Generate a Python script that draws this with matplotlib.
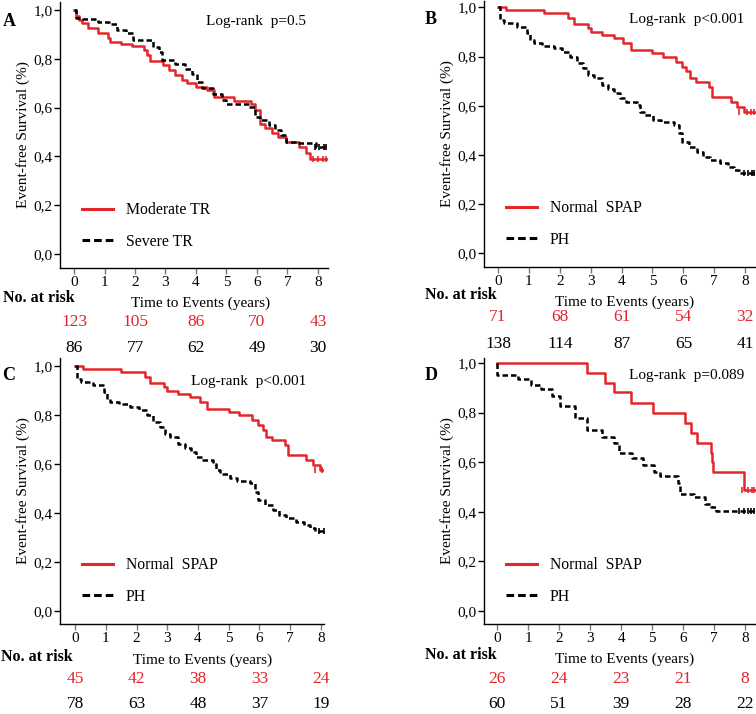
import numpy as np
import matplotlib
matplotlib.use("Agg")
import matplotlib.pyplot as plt
from matplotlib.transforms import blended_transform_factory

plt.rcParams['font.family'] = ['Liberation Serif', 'DejaVu Serif']

RED = '#e3262b'
W, H = 756, 714

# ---- survival curves: (start time, survival) steps, last entry = end of follow-up
a_mod_t = [0, 0.05, 0.15, 0.25, 0.47, 0.8, 1.1, 1.18, 1.55, 1.89, 2.3, 2.4, 2.5, 2.93, 3.1, 3.3,
           3.55, 3.7, 4.0, 4.35, 4.6, 5.25, 5.8, 5.95, 6.1, 6.25, 6.5, 6.7, 6.95, 7.38, 7.6, 7.75, 8.3]
a_mod_s = [1.0, 0.975, 0.96, 0.945, 0.928, 0.904, 0.884, 0.87, 0.86, 0.854, 0.835, 0.815, 0.79, 0.775,
           0.754, 0.734, 0.713, 0.70, 0.686, 0.672, 0.645, 0.627, 0.617, 0.59, 0.535, 0.515, 0.495,
           0.48, 0.46, 0.44, 0.413, 0.388, 0.388]
a_sev_t = [0, 0.08, 0.3, 0.8, 1.15, 1.42, 1.7, 1.95, 2.6, 2.8, 2.9, 3.3, 3.65, 3.88, 4.02, 4.2, 4.55,
           4.85, 4.97, 5.75, 5.95, 6.1, 6.38, 6.6, 6.8, 6.95, 7.25, 7.95, 8.3]
a_sev_s = [1.0, 0.966, 0.962, 0.952, 0.943, 0.918, 0.904, 0.877, 0.85, 0.83, 0.795, 0.78, 0.76, 0.74,
           0.706, 0.679, 0.658, 0.63, 0.617, 0.604, 0.563, 0.549, 0.529, 0.508, 0.488, 0.46, 0.454,
           0.44, 0.44]

b_norm_t = [0, 0.25, 1.48, 2.27, 2.45, 2.9, 3.0, 3.35, 3.75, 4.05, 4.3, 5.0, 5.33, 5.75, 5.95, 6.1,
            6.2, 6.4, 6.82, 6.93, 7.53, 7.75, 7.97, 8.32]
b_norm_s = [1.0, 0.989, 0.976, 0.955, 0.932, 0.915, 0.90, 0.888, 0.874, 0.854, 0.827, 0.813, 0.80,
            0.779, 0.759, 0.74, 0.711, 0.698, 0.677, 0.637, 0.617, 0.596, 0.576, 0.576]
b_ph_t = [0, 0.05, 0.2, 0.6, 0.95, 1.05, 1.15, 1.43, 1.8, 2.08, 2.33, 2.55, 2.76, 2.92, 3.1, 3.35,
          3.57, 3.76, 3.95, 4.13, 4.5, 4.6, 4.72, 5.03, 5.27, 5.68, 5.86, 5.95, 6.17, 6.43, 6.65,
          6.86, 7.2, 7.45, 7.65, 7.81, 8.32]
b_ph_s = [1.0, 0.949, 0.935, 0.921, 0.894, 0.867, 0.854, 0.844, 0.833, 0.82, 0.80, 0.772, 0.752,
          0.725, 0.711, 0.684, 0.667, 0.65, 0.63, 0.617, 0.603, 0.576, 0.562, 0.542, 0.533, 0.522,
          0.488, 0.454, 0.434, 0.413, 0.393, 0.379, 0.366, 0.352, 0.339, 0.328, 0.328]

# panel C shows the same curves as panel B
c_norm_t, c_norm_s = b_norm_t, b_norm_s
c_ph_t, c_ph_s = b_ph_t, b_ph_s

d_norm_t = [0, 2.91, 3.47, 3.77, 4.33, 5.03, 6.06, 6.25, 6.44, 6.9, 6.92, 6.97, 7.96, 8.32]
d_norm_s = [1.0, 0.96, 0.919, 0.881, 0.84, 0.80, 0.759, 0.719, 0.678, 0.635, 0.60, 0.56, 0.489, 0.489]
d_ph_t = [0, 0.01, 0.67, 1.1, 1.42, 1.78, 2.03, 2.53, 2.9, 3.39, 3.77, 3.93, 4.35, 4.7, 5.06, 5.27,
          5.82, 5.9, 6.35, 6.7, 6.9, 7.05, 8.32]
d_ph_s = [1.0, 0.953, 0.935, 0.912, 0.895, 0.868, 0.827, 0.777, 0.73, 0.703, 0.676, 0.635, 0.615,
          0.588, 0.56, 0.543, 0.514, 0.473, 0.459, 0.432, 0.419, 0.403, 0.403]

# censor marks near the end
a_mod_cens = [7.85, 8.0, 8.15, 8.28]
a_sev_cens = [7.9, 8.05, 8.2, 8.28]
b_norm_cens = [7.8, 8.05, 8.18, 8.3]
b_ph_cens = [7.95, 8.1, 8.22, 8.3]
d_norm_cens = [7.9, 8.1, 8.22, 8.3]
d_ph_cens = [7.8, 7.95, 8.1, 8.2, 8.3]

risk_times = [0, 2, 4, 6, 8]
a_risk_mod = [123, 105, 86, 70, 43]
a_risk_sev = [86, 77, 62, 49, 30]
b_risk_norm = [71, 68, 61, 54, 32]
b_risk_ph = [138, 114, 87, 65, 41]
c_risk_norm = [45, 42, 38, 33, 24]
c_risk_ph = [78, 63, 48, 37, 19]
d_risk_norm = [26, 24, 23, 21, 8]
d_risk_ph = [60, 51, 39, 28, 22]

yticks = [0.0, 0.2, 0.4, 0.6, 0.8, 1.0]
ytick_labels = ['0,0', '0,2', '0,4', '0,6', '0,8', '1,0']


def fy(py):
    return 1 - py / H


fig = plt.figure(figsize=(W / 100, H / 100), dpi=100)


def panel(box, xlim, ylim, letter, pval, curves, labels, risk_red, risk_blk, pos):
    l, t, r, b = box
    ax = fig.add_axes([l / W, 1 - b / H, (r - l) / W, (b - t) / H])
    for (tt, ss, cens), col, ls in zip(curves, [RED, 'black'], ['-', (0, (2.2, 1.2))]):
        ax.step(tt, ss, where='post', color=col, lw=1.8, linestyle=ls, clip_on=True)
        cy = [ss[-1]] * len(cens)
        ax.plot(cens, cy, linestyle='none', marker='|', color=col, ms=5, mew=1.2)
    ax.set_xlim(*xlim)
    ax.set_ylim(*ylim)
    for s in ['top', 'right']:
        ax.spines[s].set_visible(False)
    ax.spines['left'].set_linewidth(1.0)
    ax.spines['bottom'].set_linewidth(1.0)
    ax.set_xticks(range(9))
    ax.set_yticks(yticks)
    ax.set_yticklabels(ytick_labels)
    ax.tick_params(axis='both', labelsize=11, length=4, width=1, pad=1.5)
    ax.tick_params(axis='x', colors='#777777', labelcolor='black')
    ax.set_ylabel('Event-free Survival (%)', fontsize=11, labelpad=2)

    # dashes in legend a bit longer than on the curves
    h1, = ax.plot([], [], color=RED, lw=2.2)
    h2, = ax.plot([], [], color='black', lw=2.2, linestyle=(0, (2.5, 1.3)))
    ax.legend([h1, h2], labels, loc='upper left', frameon=False, fontsize=11.3,
              bbox_to_anchor=(pos['leg'][0] / W, fy(pos['leg'][1])),
              bbox_transform=fig.transFigure, handlelength=2.0, handletextpad=0.8,
              labelspacing=1.0, borderaxespad=0, borderpad=0)

    fig.text(pos['letter'][0] / W, fy(pos['letter'][1]), letter, fontsize=13,
             fontweight='bold', ha='center', va='center')
    fig.text(pos['p'][0] / W, fy(pos['p'][1]), pval, fontsize=11, ha='left', va='center')
    fig.text(pos['risk'][0] / W, fy(pos['risk'][1]), 'No. at risk', fontsize=11.5,
             fontweight='bold', ha='left', va='center')
    fig.text(pos['xl'][0] / W, fy(pos['xl'][1]), 'Time to Events (years)', fontsize=11,
             ha='center', va='center')
    tr = blended_transform_factory(ax.transData, fig.transFigure)
    for x, n in zip(risk_times, risk_red):
        ax.text(x, fy(pos['ry'][0]), str(n), transform=tr, color=RED, fontsize=12.5,
                ha='center', va='center', clip_on=False)
    for x, n in zip(risk_times, risk_blk):
        ax.text(x, fy(pos['ry'][1]), str(n), transform=tr, color='black', fontsize=12.5,
                ha='center', va='center', clip_on=False)
    return ax


panel((60, 2, 328, 268), (-0.46, 8.33), (-0.057, 1.033), 'A', 'Log-rank  p=0.5',
      [(a_mod_t, a_mod_s, a_mod_cens), (a_sev_t, a_sev_s, a_sev_cens)],
      ['Moderate TR', 'Severe TR'], a_risk_mod, a_risk_sev,
      dict(leg=(82, 202), letter=(9, 21), p=(206, 21), risk=(3, 298), xl=(201, 303), ry=(322, 348)))

panel((484, 1, 756, 267), (-0.453, 8.35), (-0.056, 1.026), 'B', 'Log-rank  p<0.001',
      [(b_norm_t, b_norm_s, b_norm_cens), (b_ph_t, b_ph_s, b_ph_cens)],
      ['Normal  SPAP', 'PH'], b_risk_norm, b_risk_ph,
      dict(leg=(506, 200), letter=(431, 20), p=(629, 20), risk=(425, 295), xl=(625, 302), ry=(317, 344)))

panel((60, 358, 324, 624), (-0.49, 8.1), (-0.051, 1.033), 'C', 'Log-rank  p<0.001',
      [(c_norm_t, c_norm_s, b_norm_cens), (c_ph_t, c_ph_s, b_ph_cens)],
      ['Normal  SPAP', 'PH'], c_risk_norm, c_risk_ph,
      dict(leg=(82, 557), letter=(9, 376), p=(191, 381), risk=(1, 657), xl=(203, 660), ry=(679, 704)))

panel((484, 358, 756, 624), (-0.42, 8.35), (-0.053, 1.02), 'D', 'Log-rank  p=0.089',
      [(d_norm_t, d_norm_s, d_norm_cens), (d_ph_t, d_ph_s, d_ph_cens)],
      ['Normal  SPAP', 'PH'], d_risk_norm, d_risk_ph,
      dict(leg=(506, 557), letter=(431, 376), p=(629, 375), risk=(425, 655), xl=(625, 659), ry=(679, 704)))

fig.savefig('out.png', dpi=100)
